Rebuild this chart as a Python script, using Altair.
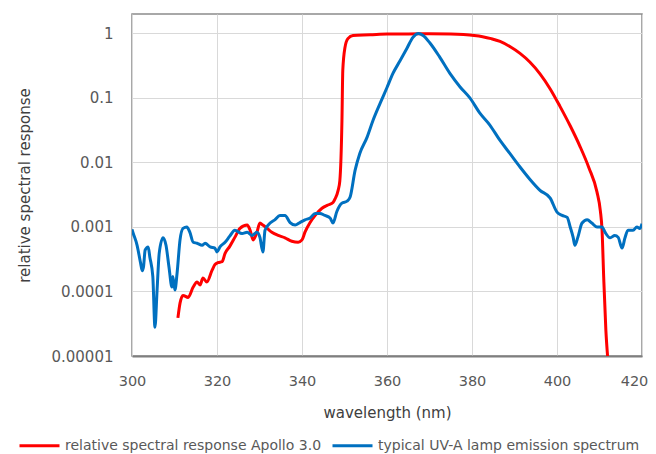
import altair as alt
import pandas as pd

RED_NAME = "relative spectral response Apollo 3.0"
BLUE_NAME = "typical UV-A lamp emission spectrum"

blue_nm = [300.0, 300.2, 301.2, 302.0, 302.4, 302.7, 303.1, 303.8, 304.2, 304.9,
           305.4, 305.9, 306.4, 307.3, 308.0, 308.7, 309.4, 309.6, 310.1, 310.6,
           311.3, 312.0, 312.9, 313.6, 314.4, 315.3, 316.5, 317.2, 318.4, 319.5,
           320.0, 320.7, 321.9, 323.0, 324.2, 325.9, 327.1, 328.2, 329.4, 330.1,
           330.8, 331.3, 332.5, 333.6, 334.8, 336.0, 337.2, 338.4, 339.5, 340.7,
           341.9, 343.1, 344.2, 345.4, 346.6, 347.3, 348.2, 349.4, 350.6, 351.3,
           352.5, 353.6, 355.3, 356.7, 358.4, 360.0, 361.4, 363.1, 364.7, 366.1,
           367.4, 368.5, 370.1, 372.3, 374.8, 377.2, 379.5, 381.9, 384.2, 386.6,
           388.9, 391.3, 393.6, 396.0, 398.4, 400.0, 401.2, 402.4, 403.1, 403.8,
           404.2, 404.9, 405.9, 407.1, 408.2, 409.4, 410.6, 411.3, 412.5, 413.6,
           414.4, 415.3, 416.0, 416.7, 417.9, 418.8, 419.5, 420.0]
blue_val = [0.00092, 0.00083, 0.00052, 0.00028, 0.00021, 0.00024, 0.00044, 0.00049, 0.00034, 0.00017,
            0.000028, 0.000105, 0.00039, 0.00068, 0.00052, 0.00024, 0.000117, 0.00017, 0.000105, 0.00019,
            0.00063, 0.00095, 0.001, 0.00083, 0.00058, 0.00056, 0.00052, 0.00056, 0.00049, 0.00047,
            0.00041, 0.00049, 0.00058, 0.00072, 0.00089, 0.00079, 0.00083, 0.00074, 0.00083, 0.00069,
            0.00041, 0.00089, 0.00115, 0.00129, 0.00151, 0.00151, 0.00117, 0.00107, 0.00117, 0.00129,
            0.00138, 0.00162, 0.00162, 0.00151, 0.00138, 0.00115, 0.00174, 0.00234, 0.00251, 0.00288,
            0.0076, 0.0138, 0.0245, 0.0447, 0.083, 0.145, 0.24, 0.38, 0.59, 0.87,
            1.0, 0.93, 0.71, 0.44, 0.24, 0.148, 0.1, 0.0575, 0.038, 0.0219,
            0.0138, 0.0085, 0.0055, 0.0037, 0.0028, 0.0017, 0.00151, 0.00141, 0.001, 0.00069,
            0.00052, 0.00069, 0.00115, 0.00129, 0.00115, 0.001, 0.001, 0.00083, 0.00068, 0.00074,
            0.00069, 0.00047, 0.00068, 0.00089, 0.00089, 0.001, 0.00095, 0.00112]

red_nm = [310.8, 311.3, 312.0, 313.2, 314.4, 315.3, 316.0, 316.7, 317.6, 318.8,
          319.5, 320.2, 321.2, 321.9, 323.0, 324.2, 325.4, 327.1, 327.8, 328.5,
          329.4, 330.1, 330.8, 331.8, 332.9, 334.4, 336.0, 337.6, 339.1, 340.0,
          340.7, 341.9, 343.1, 344.7, 346.1, 347.3, 347.8, 348.5, 348.9, 349.4,
          349.6, 350.1, 350.8, 352.0, 356.0, 360.0, 365.0, 370.0, 375.0, 378.0,
          380.5, 382.5, 384.5, 386.6, 389.0, 391.3, 393.6, 396.0, 398.4, 400.7,
          403.1, 405.4, 407.5, 409.4, 410.2, 410.6, 411.0, 411.5, 411.9]
red_val = [0.000039, 0.000066, 0.000087, 0.000081, 0.000117, 0.00014, 0.000126, 0.000162, 0.00014, 0.00021,
           0.00026, 0.00028, 0.00029, 0.00039, 0.0005, 0.00069, 0.00095, 0.00107, 0.00089, 0.00063,
           0.00083, 0.00115, 0.00107, 0.00095, 0.00083, 0.00074, 0.00068, 0.0006, 0.00058, 0.00063,
           0.00083, 0.00117, 0.00151, 0.00195, 0.00219, 0.0024, 0.00275, 0.0037, 0.0052, 0.0447,
           0.27, 0.6, 0.83, 0.93, 0.95, 0.98, 0.98, 0.99, 0.98, 0.96,
           0.93, 0.89, 0.83, 0.75, 0.62, 0.49, 0.36, 0.236, 0.138, 0.074,
           0.037, 0.0178, 0.0083, 0.0035, 0.00178, 0.00089, 0.000158, 0.000025, 0.00001]

y_ticks = [0.00001, 0.0001, 0.001, 0.01, 0.1, 1]
x_ticks = [300, 320, 340, 360, 380, 400, 420]

df = pd.concat([
    pd.DataFrame({"nm": red_nm, "val": red_val, "series": RED_NAME, "order": 0}),
    pd.DataFrame({"nm": blue_nm, "val": blue_val, "series": BLUE_NAME, "order": 1}),
], ignore_index=True)

FONT = "DejaVu Sans"
GRAY = "#595959"

chart = alt.Chart(df).mark_line(strokeWidth=3, clip=True, interpolate="monotone").encode(
    x=alt.X("nm:Q", scale=alt.Scale(domain=[300, 420], nice=False),
            axis=alt.Axis(values=x_ticks, title="wavelength (nm)", titleX=255, titleY=56,
                          titleBaseline="middle", labelPadding=18, labelFlush=False,
                          labelOffset={"condition": {"test": "datum.value == 420", "value": -8}, "value": 0},
                          labelFontSize=14.5, domain=True,
                          domainColor="#7f7f7f", domainWidth=2)),
    y=alt.Y("val:Q", scale=alt.Scale(type="log", domain=[0.00001, 2], nice=False),
            axis=alt.Axis(values=y_ticks, format=".5~f", title="relative spectral response",
                          titleX=-108, titleY=171, titleBaseline="middle", titleAlign="center",
                          labelPadding=19, labelFlush=False, domain=False)),
    color=alt.Color("series:N", title=None,
                    scale=alt.Scale(domain=[RED_NAME, BLUE_NAME], range=["#ff0000", "#0070c0"]),
                    legend=alt.Legend(orient="none", legendX=-114, legendY=410, direction="horizontal",
                                      symbolType="stroke", symbolSize=1600, symbolStrokeWidth=3,
                                      labelFontSize=14, labelColor=GRAY, labelFont=FONT,
                                      labelLimit=400, columnPadding=4, labelOffset=4, padding=0)),
    order=alt.Order("order:Q"),
    detail="series:N",
).properties(
    width=510, height=342,
    autosize=alt.AutoSizeParams(type="none"),
    padding={"left": 124, "top": 6, "right": 6, "bottom": 98},
).configure_view(
    stroke="#8c8c8c", strokeWidth=1.5
).configure_axis(
    grid=True, gridColor="#d9d9d9", gridWidth=1, ticks=False,
    labelFont=FONT, labelFontSize=15, labelColor=GRAY,
    titleFont=FONT, titleFontSize=15, titleColor="#404040", titleFontWeight="normal",
)

chart.save("out.html", embed_options={"renderer": "svg", "actions": False})
